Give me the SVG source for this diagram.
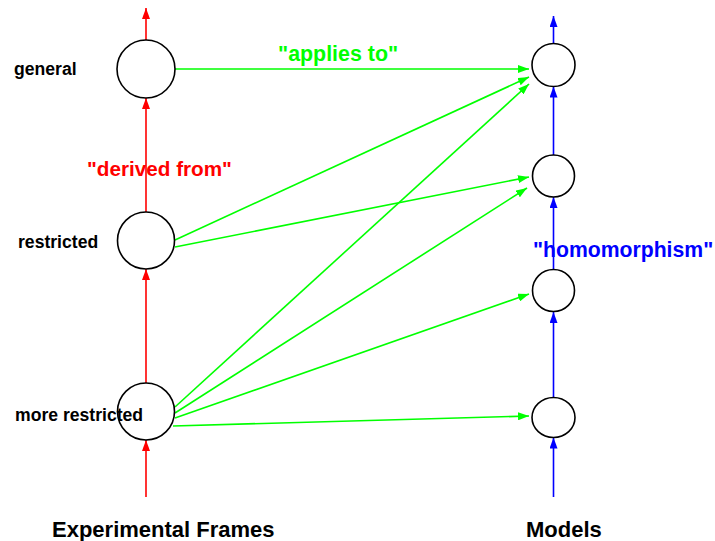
<svg xmlns="http://www.w3.org/2000/svg" width="715" height="541" viewBox="0 0 715 541">
<defs>
<marker id="ar" markerUnits="userSpaceOnUse" markerWidth="11" markerHeight="8" refX="11" refY="4" orient="auto"><path d="M0,0 L11,4 L0,8 z" fill="#ff0000"/></marker>
<marker id="ab" markerUnits="userSpaceOnUse" markerWidth="11" markerHeight="8" refX="11" refY="4" orient="auto"><path d="M0,0 L11,4 L0,8 z" fill="#0000ff"/></marker>
<marker id="ag" markerUnits="userSpaceOnUse" markerWidth="11" markerHeight="8" refX="11" refY="4" orient="auto"><path d="M0,0 L11,4 L0,8 z" fill="#00ff00"/></marker>
</defs>
<style>
.n{fill:none;stroke:#000;stroke-width:1.6}
.r{stroke:#ff0000;stroke-width:1.6;fill:none;marker-end:url(#ar)}
.b{stroke:#0000ff;stroke-width:1.6;fill:none;marker-end:url(#ab)}
.g{stroke:#00ff00;stroke-width:1.6;fill:none;marker-end:url(#ag)}
text{font-family:"Liberation Sans",Arial,sans-serif;font-weight:bold}
.lbl{font-size:17.6px;fill:#000}
.title{font-size:22px;fill:#000}
</style>
<g id="connectors">
<line class="r" x1="146" y1="40" x2="146" y2="8"/>
<line class="r" x1="146" y1="212" x2="146" y2="98"/>
<line class="r" x1="146" y1="383" x2="146" y2="269"/>
<line class="r" x1="146" y1="497" x2="146" y2="440"/>
<line class="b" x1="553.5" y1="43.5" x2="553.5" y2="16"/>
<line class="b" x1="553.5" y1="155" x2="553.5" y2="86.5"/>
<line class="b" x1="553.5" y1="269.5" x2="553.5" y2="197"/>
<line class="b" x1="553.5" y1="397.5" x2="553.5" y2="312"/>
<line class="b" x1="553.5" y1="497" x2="553.5" y2="437.5"/>
<line class="g" x1="175" y1="69" x2="529" y2="69"/>
<line class="g" x1="175" y1="240" x2="529" y2="77"/>
<line class="g" x1="175" y1="247" x2="529" y2="177"/>
<line class="g" x1="175" y1="407" x2="529" y2="84"/>
<line class="g" x1="175" y1="413" x2="527" y2="188"/>
<line class="g" x1="175" y1="418" x2="529" y2="294"/>
<line class="g" x1="173" y1="426" x2="529" y2="416"/>
</g>
<g id="ef-general"><text class="lbl" x="14" y="75">general</text><circle class="n" cx="146" cy="69" r="29"/></g>
<g id="ef-restricted"><text class="lbl" x="18" y="248">restricted</text><circle class="n" cx="146" cy="240.5" r="28.5"/></g>
<g id="ef-more-restricted"><text class="lbl" x="15" y="421">more restricted</text><circle class="n" cx="146" cy="411.5" r="28.5"/></g>
<g id="m1"><circle class="n" cx="553.5" cy="65" r="21.5"/></g>
<g id="m2"><circle class="n" cx="553.5" cy="176" r="21"/></g>
<g id="m3"><circle class="n" cx="553.5" cy="290.5" r="21"/></g>
<g id="m4"><ellipse class="n" cx="553.5" cy="417.5" rx="21.5" ry="20"/></g>
<g id="labels">
<text x="87" y="176" font-size="20.7" fill="#ff0000">"derived from"</text>
<text x="278" y="61" font-size="21.4" fill="#00ff00">"applies to"</text>
<text x="533" y="257" font-size="21.2" fill="#0000ff">"homomorphism"</text>
<text class="title" x="52" y="537">Experimental Frames</text>
<text class="title" x="526" y="537">Models</text>
</g>
</svg>
